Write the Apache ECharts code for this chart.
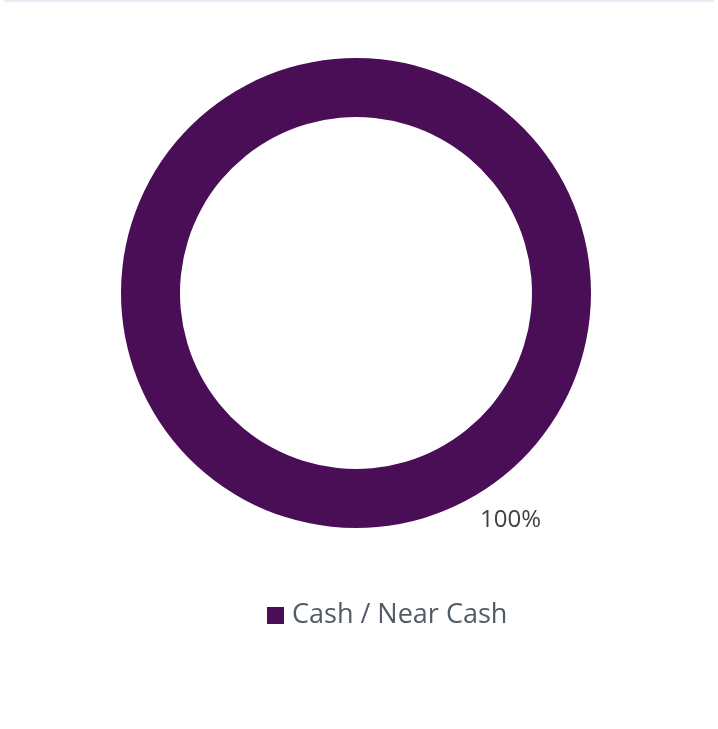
<!DOCTYPE html>
<html>
<head>
<meta charset="utf-8">
<script src="https://cdn.jsdelivr.net/npm/echarts@6/dist/echarts.min.js"></script>
<style>
html, body { margin: 0; padding: 0; background: #fff; }
#chart { width: 718px; height: 729px; }
</style>
</head>
<body>
<div id="chart"></div>
<script>
// 资产类别与占比
var categories = ['Cash / Near Cash'];
var values = [100];
var colors = ['#4a0e57'];

var myChart = echarts.init(document.getElementById('chart'));

var pieData = [];
for (var i = 0; i < categories.length; i++) {
	pieData.push({ name: categories[i], value: values[i], itemStyle: { color: colors[i] } });
}

var option = {
	animation: false,
	backgroundColor: '#ffffff',
	graphic: [{
		type: 'rect',
		shape: { x: 4, y: 0, width: 710, height: 2 },
		style: { fill: '#e8ecf8' }
	}],
	legend: {
		data: categories,
		left: 262,
		top: 597,
		icon: 'rect',
		itemWidth: 17,
		itemHeight: 17,
		itemGap: 6,
		textStyle: {
			fontFamily: 'Open Sans',
			fontSize: 27,
			color: '#4f5b66',
			padding: [0, 0, 0, 3]
		}
	},
	series: [{
		type: 'pie',
		center: [356, 293],
		radius: [176, 235],
		startAngle: 117.7,
		clockwise: true,
		data: pieData,
		label: {
			show: true,
			position: 'outside',
			formatter: function (p) { return p.percent.toFixed(0) + '%'; },
			fontFamily: 'Open Sans',
			fontSize: 24,
			color: '#404040'
		},
		labelLine: {
			show: false,
			length: 21,
			length2: 0
		},
		emphasis: { disabled: true }
	}]
};

myChart.setOption(option);
</script>
</body>
</html>
